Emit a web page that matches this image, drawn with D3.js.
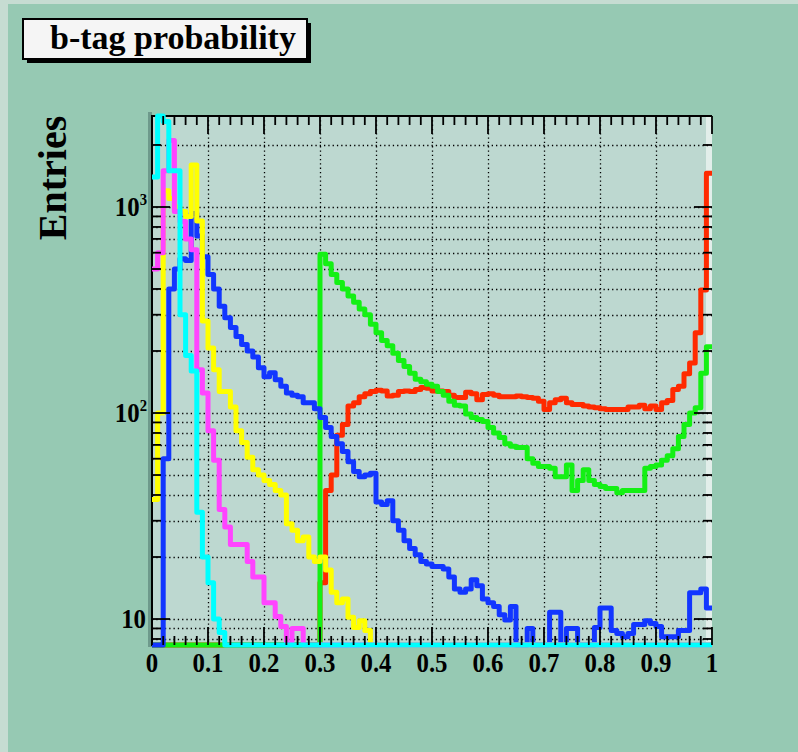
<!DOCTYPE html>
<html>
<head>
<meta charset="utf-8">
<script src="https://cdn.jsdelivr.net/npm/d3@7/dist/d3.min.js"></script>
<style>
  html, body { margin: 0; padding: 0; background: #96c9b3; }
  svg { display: block; }
</style>
</head>
<body>
<svg id="chart" width="798" height="752"></svg>
<script>
// ---- histogram contents: 100 bins of width 0.01 on [0, 1] ----
const nBins = 100;
const xDomain = [0, 1];
const yDomain = [7.48, 2765];

const redCounts = [
  0, 0, 0, 0, 0, 0, 0, 0, 0, 0,
  0, 0, 0, 0, 0, 0, 0, 0, 0, 0,
  0, 0, 0, 0, 0, 0, 0, 0, 0, 0,
  15, 42, 50, 78, 88, 108, 112, 120, 124, 127,
  129, 128, 121, 122, 127, 128, 127, 130, 133, 132,
  128, 128, 127, 122, 119, 119, 126, 124, 116, 123,
  124, 122, 120, 120, 120, 121, 120, 119, 118, 114,
  104, 112, 116, 118, 112, 110, 110, 108, 107, 106,
  105, 104, 104, 104, 104, 107, 107, 109, 105, 108,
  104, 112, 115, 130, 135, 155, 175, 245, 395, 1460
];

const greenCounts = [
  0, 0, 0, 0, 0, 0, 0, 0, 0, 0,
  0, 0, 0, 0, 0, 0, 0, 0, 0, 0,
  0, 0, 0, 0, 0, 0, 0, 0, 0, 0,
  590, 530, 470, 430, 400, 370, 345, 320, 300, 270,
  245, 225, 212, 195, 180, 168, 156, 146, 142, 138,
  135, 127, 122, 114, 109, 108, 99, 95, 93, 91,
  85, 80, 76, 71, 69, 68, 68, 60, 57, 55,
  55, 54, 49, 49, 56, 42, 47, 53, 47, 45,
  44, 43, 43, 41, 42, 42, 42, 42, 54, 55,
  56, 59, 62, 67, 77, 88, 100, 106, 156, 210
];

const blueCounts = [
  0, 0, 60, 400, 500, 560, 550, 930, 723, 573,
  470, 400, 330, 290, 260, 235, 215, 200, 187, 166,
  150, 157, 145, 135, 125, 122, 120, 112, 112, 105,
  95, 85, 77, 71, 65, 58, 52, 49, 50, 51,
  37, 36, 37.5, 30, 27, 24, 22, 20.5, 19, 18.5,
  18, 18, 17.5, 16, 14, 13.5, 14, 15.5, 14.5, 12.5,
  12, 11.5, 10.5, 9.9, 11.5, 0, 0, 9, 0, 0,
  0, 10.8, 10.8, 0, 9, 9, 0, 0, 0, 9.1,
  11.3, 11.3, 8.8, 8.5, 8.2, 8.5, 9.4, 9.4, 9.8, 9.5,
  9.2, 8.2, 8.2, 8.2, 8.8, 8.8, 13.4, 13.4, 14, 11.3
];

const yellowCounts = [
  38, 100, 1200, 1100, 1000, 950, 900, 1600, 855, 280,
  207, 162, 127, 127, 107, 82, 72, 61, 53, 50,
  47, 45, 42, 40, 29, 27, 24, 25, 20, 19,
  20, 17.3, 13.5, 12, 12.5, 10.2, 9.1, 9.8, 8.8, 0,
  0, 0, 0, 0, 0, 0, 0, 0, 0, 0,
  0, 0, 0, 0, 0, 0, 0, 0, 0, 0,
  0, 0, 0, 0, 0, 0, 0, 0, 0, 0,
  0, 0, 0, 0, 0, 0, 0, 0, 0, 0,
  0, 0, 0, 0, 0, 0, 0, 0, 0, 0,
  0, 0, 0, 0, 0, 0, 0, 0, 0, 0
];

const magentaCounts = [
  500, 600, 1500, 2100, 950, 850, 700, 620, 162, 125,
  82, 59, 34, 28, 23, 23, 23, 19, 16, 16,
  12, 12, 10.3, 9.2, 0, 9, 9, 0, 0, 0,
  0, 0, 0, 0, 0, 0, 0, 0, 0, 0,
  0, 0, 0, 0, 0, 0, 0, 0, 0, 0,
  0, 0, 0, 0, 0, 0, 0, 0, 0, 0,
  0, 0, 0, 0, 0, 0, 0, 0, 0, 0,
  0, 0, 0, 0, 0, 0, 0, 0, 0, 0,
  0, 0, 0, 0, 0, 0, 0, 0, 0, 0,
  0, 0, 0, 0, 0, 0, 0, 0, 0, 0
];

const cyanCounts = [
  1400, 3000, 2600, 1500, 1500, 300, 190, 160, 33, 20,
  15, 10, 8.6, 0, 0, 0, 0, 0, 0, 0,
  0, 0, 0, 0, 0, 0, 0, 0, 0, 0,
  0, 0, 0, 0, 0, 0, 0, 0, 0, 0,
  0, 0, 0, 0, 0, 0, 0, 0, 0, 0,
  0, 0, 0, 0, 0, 0, 0, 0, 0, 0,
  0, 0, 0, 0, 0, 0, 0, 0, 0, 0,
  0, 0, 0, 0, 0, 0, 0, 0, 0, 0,
  0, 0, 0, 0, 0, 0, 0, 0, 0, 0,
  0, 0, 0, 0, 0, 0, 0, 0, 0, 0
];

const xTickLabels = ["0", "0.1", "0.2", "0.3", "0.4", "0.5", "0.6", "0.7", "0.8", "0.9", "1"];
const yMajorTicks = [10, 100, 1000];
const yTickExponents = ["", "2", "3"];
const titleText = "b-tag probability";
const yAxisTitle = "Entries";

// draw order: later series sit on top
const series = [
  { name: "red", values: redCounts, color: "#ff2a00" },
  { name: "green", values: greenCounts, color: "#14f014" },
  { name: "blue", values: blueCounts, color: "#1236ff" },
  { name: "yellow", values: yellowCounts, color: "#ffff00" },
  { name: "magenta", values: magentaCounts, color: "#ff44ff" },
  { name: "cyan", values: cyanCounts, color: "#00ffff" }
];

// ---- layout ----
const W = 798, H = 752;
const frame = { left: 152, right: 712, top: 116, bottom: 645 };
const serif = "'Liberation Serif', 'Times New Roman', serif";

const svg = d3.select("#chart");

const x = d3.scaleLinear().domain(xDomain).range([frame.left, frame.right]);
const y = d3.scaleLog().domain(yDomain).range([frame.bottom, frame.top]).clamp(true);

// canvas with bevelled light edges
svg.append("rect").attr("x", 0).attr("y", 0).attr("width", W).attr("height", H).attr("fill", "#96c9b3");
svg.append("rect").attr("x", 0).attr("y", 0).attr("width", W).attr("height", 4).attr("fill", "#c6dcd2");
svg.append("rect").attr("x", 0).attr("y", 0).attr("width", 8).attr("height", H).attr("fill", "#c6dcd2");

// title pave
const tb = { x: 23, y: 19, w: 284, h: 40 };
svg.append("rect").attr("x", tb.x + 4).attr("y", tb.y + 4).attr("width", tb.w).attr("height", tb.h).attr("fill", "#000");
svg.append("rect").attr("x", tb.x).attr("y", tb.y).attr("width", tb.w).attr("height", tb.h)
  .attr("fill", "#f5f5f5").attr("stroke", "#000").attr("stroke-width", 2);
svg.append("text").attr("x", 50).attr("y", 49)
  .attr("font-family", serif).attr("font-weight", "bold").attr("font-size", 34)
  .attr("fill", "#000").text(titleText);

// frame
svg.append("rect").attr("x", frame.left - 4).attr("y", frame.top - 4)
  .attr("width", 4).attr("height", frame.bottom - frame.top + 6).attr("fill", "#6e9a8c");
svg.append("rect").attr("x", frame.left).attr("y", frame.top)
  .attr("width", frame.right - frame.left).attr("height", frame.bottom - frame.top)
  .attr("fill", "#bdd8d0");
svg.append("rect").attr("x", frame.right - 6).attr("y", frame.top)
  .attr("width", 6).attr("height", frame.bottom - frame.top).attr("fill", "#e2eeea");

// log tick values inside the visible range
const logTicks = [];
for (let e = 0; e <= 3; e++) {
  for (let m = 1; m <= 9; m++) {
    const v = m * Math.pow(10, e);
    if (v >= yDomain[0] && v <= yDomain[1]) logTicks.push(v);
  }
}

// dotted grid
const grid = svg.append("g").attr("stroke", "#000").attr("stroke-width", 1.3)
  .attr("stroke-dasharray", "1.3 3");
grid.selectAll("line.h").data(logTicks).join("line").attr("class", "h")
  .attr("x1", frame.left).attr("x2", frame.right)
  .attr("y1", d => Math.round(y(d)) + 0.5).attr("y2", d => Math.round(y(d)) + 0.5);
const xGridVals = d3.range(1, 10).map(i => i / 10);
grid.selectAll("line.v").data(xGridVals).join("line").attr("class", "v")
  .attr("y1", frame.top).attr("y2", frame.bottom)
  .attr("x1", d => Math.round(x(d)) + 0.5).attr("x2", d => Math.round(x(d)) + 0.5);

// axis lines
const axes = svg.append("g").attr("stroke", "#000").attr("stroke-width", 2);
axes.append("line").attr("x1", frame.left).attr("x2", frame.left).attr("y1", frame.top - 1).attr("y2", frame.bottom + 1);
axes.append("line").attr("x1", frame.left).attr("x2", frame.right).attr("y1", frame.top).attr("y2", frame.top);
axes.append("line").attr("x1", frame.left).attr("x2", frame.right).attr("y1", frame.bottom).attr("y2", frame.bottom);

// histograms as step outlines
const line = d3.line()
  .x(d => x(d[0]))
  .y(d => y(Math.max(d[1], yDomain[0])))
  .curve(d3.curveStepAfter);

const hist = svg.append("g").attr("fill", "none").attr("stroke-width", 5)
  .attr("stroke-linejoin", "round").attr("stroke-linecap", "butt");
series.forEach(s => {
  const pts = s.values.map((v, i) => [i / nBins, v]);
  pts.push([1, s.values[nBins - 1]]);
  hist.append("path").attr("d", line(pts)).attr("stroke", s.color);
});

// tick marks on all four sides
const ticks = svg.append("g").attr("stroke", "#000").attr("stroke-width", 1.8);
const xTickVals = d3.range(0, 51).map(i => i / 50);
xTickVals.forEach((v, i) => {
  const len = (i % 5 === 0) ? 18 : 9;
  const px = x(v);
  ticks.append("line").attr("x1", px).attr("x2", px).attr("y1", frame.bottom).attr("y2", frame.bottom - len);
  ticks.append("line").attr("x1", px).attr("x2", px).attr("y1", frame.top).attr("y2", frame.top + len);
});
logTicks.forEach(v => {
  const len = yMajorTicks.includes(v) ? 18 : 9;
  const py = y(v);
  ticks.append("line").attr("x1", frame.left).attr("x2", frame.left + len).attr("y1", py).attr("y2", py);
  ticks.append("line").attr("x1", frame.right).attr("x2", frame.right - len).attr("y1", py).attr("y2", py);
});

// x tick labels
const xl = svg.append("g").attr("font-family", serif).attr("font-weight", "bold")
  .attr("font-size", 27).attr("fill", "#000").attr("text-anchor", "middle");
xTickLabels.forEach((t, i) => {
  xl.append("text")
    .attr("transform", `translate(${x(i / 10)},${frame.bottom + 27}) scale(0.92,1)`)
    .text(t);
});

// y tick labels: 10, 10^2, 10^3
const yl = svg.append("g").attr("font-family", serif).attr("font-weight", "bold")
  .attr("fill", "#000").attr("text-anchor", "end");
yMajorTicks.forEach((v, i) => {
  const exp = yTickExponents[i];
  const t = yl.append("text")
    .attr("transform", `translate(${exp ? 147 : 146},${y(v) + 9}) scale(0.92,1)`)
    .attr("font-size", 27);
  t.append("tspan").text("10");
  if (exp) t.append("tspan").attr("font-size", 16).attr("dy", -11).text(exp);
});

// y axis title
svg.append("text")
  .attr("transform", "translate(66,178) rotate(-90)")
  .attr("text-anchor", "middle")
  .attr("font-family", serif).attr("font-weight", "bold").attr("font-size", 40)
  .attr("fill", "#000").text(yAxisTitle);
</script>
</body>
</html>
